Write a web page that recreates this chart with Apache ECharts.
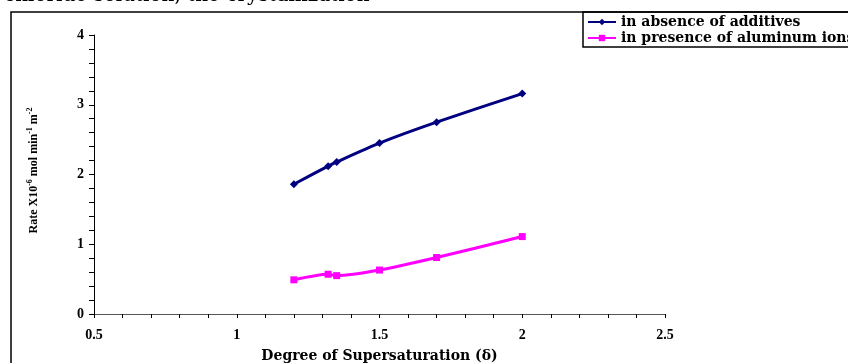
<!DOCTYPE html>
<html>
<head>
<meta charset="utf-8">
<script src="https://cdn.jsdelivr.net/npm/echarts@6/dist/echarts.min.js"></script>
<style>html,body{margin:0;padding:0;background:#fff}#c{width:848px;height:363px}</style>
</head>
<body>
<div id="c"></div>
<script>
const supersaturation = [1.2, 1.32, 1.35, 1.5, 1.7, 2.0];
const rateNoAdditive = [1.86, 2.12, 2.18, 2.45, 2.75, 3.16];
const rateAluminum = [0.49, 0.57, 0.55, 0.63, 0.81, 1.11];
const seriesNames = ['in absence of additives', 'in presence of aluminum ions'];
const xTickLabels = [0.5, 1, 1.5, 2, 2.5];
const yTickLabels = [0, 1, 2, 3, 4];

const serif = '"DejaVu Serif", "Liberation Serif", serif';
const tnr = '"Liberation Serif", serif';
const chart = echarts.init(document.getElementById('c'));
const pair = (xs, ys) => xs.map((x, i) => [x, ys[i]]);
const isMajor = (v, list) => list.some(t => Math.abs(t - v) < 1e-6);

chart.setOption({
  animation: false,
  backgroundColor: '#fff',
  grid: { left: 94, right: 183, top: 35, bottom: 49, outerBoundsMode: 'none', containLabel: false },
  legend: {
    left: 583, top: 12, orient: 'vertical',
    itemWidth: 28, itemHeight: 8, itemGap: 2,
    padding: [3, 80, 2, 4],
    borderColor: '#000', borderWidth: 1.5,
    textStyle: { fontFamily: serif, fontWeight: 'bold', fontSize: 14, color: '#000' },
    data: seriesNames
  },
  xAxis: {
    type: 'value', min: 0.5, max: 2.5, interval: 0.1,
    name: 'Degree of Supersaturation (δ)', nameLocation: 'middle', nameGap: 35,
    nameTextStyle: { fontFamily: serif, fontWeight: 'bold', fontSize: 14, color: '#000' },
    axisLine: { lineStyle: { color: '#555', width: 1 } },
    axisTick: { length: 4, lineStyle: { color: '#000' } },
    axisLabel: {
      margin: 14, fontFamily: tnr, fontWeight: 'bold', fontSize: 14, color: '#000',
      formatter: v => isMajor(v, xTickLabels) ? String(+v.toFixed(1)) : ''
    },
    splitLine: { show: false }
  },
  yAxis: {
    type: 'value', min: 0, max: 4, interval: 0.2,
    name: '{b|Rate X10}{s|-6}{b| mol min}{s|-1}{b| m}{s|-2}',
    nameLocation: 'middle', nameGap: 53, nameRotate: 90,
    nameTextStyle: {
      padding: [0, 0, 0, 8],
      rich: {
        b: { fontFamily: tnr, fontWeight: 'bold', fontSize: 12, color: '#000' },
        s: { fontFamily: tnr, fontWeight: 'bold', fontSize: 8, color: '#000', verticalAlign: 'top', padding: [0, 0, 7, 0] }
      }
    },
    axisLine: { show: true, lineStyle: { color: '#000', width: 1 } },
    axisTick: { show: true, length: 5, lineStyle: { color: '#000' } },
    axisLabel: {
      margin: 10, fontFamily: tnr, fontWeight: 'bold', fontSize: 14, color: '#000',
      formatter: v => isMajor(v, yTickLabels) ? String(Math.round(v)) : ''
    },
    splitLine: { show: false }
  },
  graphic: [
    { type: 'rect', shape: { x: 11, y: 12, width: 900, height: 400 }, style: { fill: 'none', stroke: '#000', lineWidth: 1.5 }, z: -1 },
    { type: 'text', left: 4, top: -14, style: { text: 'chloride solution, the crystallization', font: '20px ' + serif, fill: '#000' } }
  ],
  series: [
    {
      name: seriesNames[0], type: 'line', smooth: 0.25,
      data: pair(supersaturation, rateNoAdditive),
      symbol: 'diamond', symbolSize: 8,
      lineStyle: { color: '#000080', width: 3 },
      itemStyle: { color: '#000080' }
    },
    {
      name: seriesNames[1], type: 'line', smooth: 0.25,
      data: pair(supersaturation, rateAluminum),
      symbol: 'rect', symbolSize: 7,
      lineStyle: { color: '#FF00FF', width: 3 },
      itemStyle: { color: '#FF00FF' }
    }
  ]
});
</script>
</body>
</html>
